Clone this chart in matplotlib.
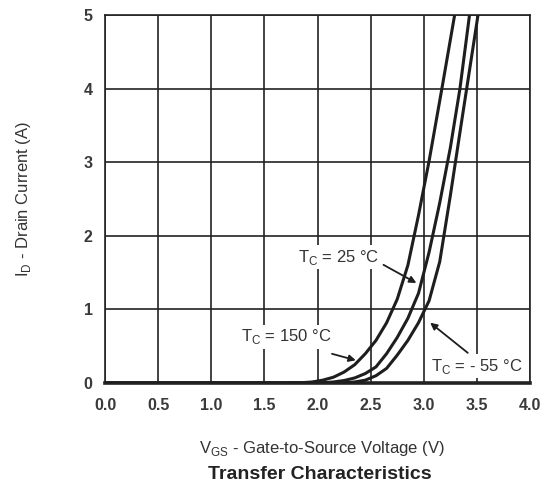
import matplotlib
matplotlib.use('Agg')
import matplotlib.pyplot as plt

plt.rcParams['font.family'] = ['Liberation Sans', 'DejaVu Sans']

# transfer curves (V_GS in V, I_D in A)
vgs_150 = [0.0, 1.7, 1.85, 1.95, 2.05, 2.15, 2.25, 2.35, 2.45, 2.55, 2.65, 2.75, 2.85, 2.95, 3.05, 3.17, 3.29]
id_150 = [0.0, 0.0, 0.005, 0.015, 0.04, 0.08, 0.15, 0.25, 0.40, 0.58, 0.82, 1.14, 1.6, 2.28, 3.02, 4.0, 5.0]

vgs_25 = [0.0, 1.9, 2.05, 2.15, 2.25, 2.35, 2.45, 2.55, 2.65, 2.75, 2.85, 2.95, 3.05, 3.15, 3.25, 3.34, 3.43]
id_25 = [0.0, 0.0, 0.005, 0.015, 0.035, 0.07, 0.13, 0.22, 0.40, 0.62, 0.88, 1.22, 1.78, 2.45, 3.2, 4.0, 5.0]

vgs_m55 = [0.0, 2.1, 2.25, 2.35, 2.45, 2.55, 2.65, 2.75, 2.85, 2.95, 3.05, 3.15, 3.25, 3.35, 3.43, 3.51]
id_m55 = [0.0, 0.0, 0.005, 0.015, 0.04, 0.1, 0.2, 0.38, 0.58, 0.82, 1.12, 1.65, 2.55, 3.5, 4.25, 5.0]

x_ticks = [0.0, 0.5, 1.0, 1.5, 2.0, 2.5, 3.0, 3.5, 4.0]
y_ticks = [0, 1, 2, 3, 4, 5]

fig = plt.figure(figsize=(5.51, 4.88), dpi=100)
ax = fig.add_axes([0.1906, 0.215, 0.7714, 0.754])

for v, i in [(vgs_150, id_150), (vgs_25, id_25), (vgs_m55, id_m55)]:
    ax.plot(v, i, color='#1e1e1e', lw=2.2, zorder=3, solid_joinstyle='round')

ax.set_xlim(0, 4)
ax.set_ylim(0, 5)
ax.set_xticks(x_ticks)
ax.set_yticks(y_ticks)
ax.set_xticklabels([f'{t:.1f}' for t in x_ticks], fontsize=11.5, fontweight='bold', color='#3a3a3a')
ax.set_yticklabels([str(t) for t in y_ticks], fontsize=11.5, fontweight='bold', color='#3a3a3a')
ax.tick_params(length=0)
ax.tick_params(axis='x', pad=11)
ax.tick_params(axis='y', pad=9)
ax.grid(True, color='#222222', lw=1.2)
ax.set_axisbelow(True)
for s in ax.spines.values():
    s.set_color('#222222')
    s.set_linewidth(1.2)
ax.spines['bottom'].set_linewidth(2.6)

box = dict(boxstyle='square,pad=0.15', fc='white', ec='none')
arrow = dict(arrowstyle='-|>', color='#1e1e1e', lw=1.3, mutation_scale=10, shrinkA=0, shrinkB=0)

ax.annotate(r'T$_\mathregular{C}$ = 25 °C', xy=(2.93, 1.36), xytext=(2.2, 1.71),
            ha='center', va='center', fontsize=12, color='#333333', bbox=box,
            arrowprops=dict(arrow, relpos=(1.05, 0.1)), zorder=4)
ax.annotate(r'T$_\mathregular{C}$ = 150 °C', xy=(2.36, 0.31), xytext=(1.71, 0.63),
            ha='center', va='center', fontsize=12, color='#333333', bbox=box,
            arrowprops=dict(arrow, relpos=(1.0, -0.4)), zorder=4)
ax.annotate(r'T$_\mathregular{C}$ = - 55 °C', xy=(3.06, 0.82), xytext=(3.5, 0.23),
            ha='center', va='center', fontsize=12, color='#333333', bbox=box,
            arrowprops=dict(arrow, relpos=(0.4, 1.2)), zorder=4)

ax.set_ylabel(r'I$_\mathregular{D}$ - Drain Current (A)', fontsize=12, color='#333333')
ax.yaxis.set_label_coords(-0.17, 0.5)
ax.set_xlabel(r'V$_\mathregular{GS}$ - Gate-to-Source Voltage (V)', fontsize=12, color='#333333')
ax.xaxis.set_label_coords(0.51, -0.152)
fig.text(0.581, 0.027, 'Transfer Characteristics', ha='center', va='center',
         fontsize=14, fontweight='bold', color='#222222')

fig.savefig('out.png', dpi=100)
